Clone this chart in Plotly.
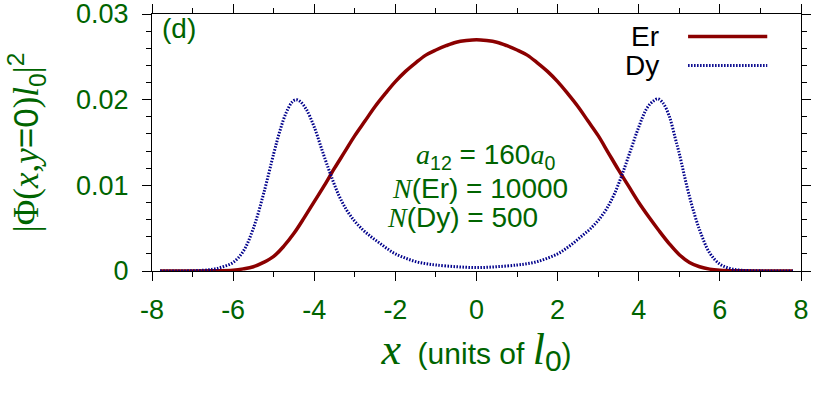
import plotly.graph_objects as go

# ---------------- data ----------------
x_er = [-7.8, -7.0, -6.5, -6.0, -5.75, -5.5, -5.25, -5.0, -4.75, -4.5, -4.25, -4.0, -3.75, -3.5, -3.25,
        -3.0, -2.75, -2.5, -2.25, -2.0, -1.75, -1.5, -1.25, -1.0, -0.75, -0.5, -0.25, 0.0,
        0.25, 0.5, 0.75, 1.0, 1.25, 1.5, 1.75, 2.0, 2.25, 2.5, 2.75, 3.0, 3.25, 3.5, 3.75, 4.0,
        4.25, 4.5, 4.75, 5.0, 5.25, 5.5, 5.75, 6.0, 6.5, 7.0, 7.8]
er = [0.0, 0.00001, 0.00003, 0.0001, 0.00025, 0.0005, 0.001, 0.0017, 0.0029, 0.0044, 0.0062, 0.0081,
      0.0100, 0.0120, 0.0139, 0.0158, 0.0175, 0.0192, 0.0207, 0.0221, 0.0233, 0.0243, 0.0252, 0.0258,
      0.0263, 0.0267, 0.0269, 0.0270,
      0.0269, 0.0267, 0.0263, 0.0258, 0.0252, 0.0243, 0.0233, 0.0221, 0.0207, 0.0192, 0.0175, 0.0158,
      0.0138, 0.0118, 0.0099, 0.0080, 0.0063, 0.0047, 0.0032, 0.0019, 0.0010, 0.0005, 0.00022, 0.0001,
      0.00003, 0.00001, 0.0]

x_dy = [-7.8, -7.0, -6.5, -6.25, -6.0, -5.75, -5.5, -5.25, -5.0, -4.85, -4.7, -4.55, -4.45, -4.35, -4.2,
        -4.0, -3.8, -3.6, -3.4, -3.2, -3.0, -2.8, -2.6, -2.4, -2.2, -2.0, -1.75, -1.5, -1.25, -1.0,
        -0.5, 0.0,
        0.5, 1.0, 1.25, 1.5, 1.75, 2.0, 2.2, 2.4, 2.6, 2.8, 3.0, 3.2, 3.4, 3.6, 3.8, 4.0, 4.2, 4.35,
        4.47, 4.6, 4.75, 4.9, 5.0, 5.25, 5.5, 5.75, 6.0, 6.25, 6.5, 7.0, 7.8]
dy = [0.0, 0.00003, 0.0002, 0.0005, 0.0010, 0.0023, 0.0050, 0.0090, 0.0137, 0.0163, 0.0184, 0.0197,
      0.0200, 0.0198, 0.0189, 0.0168, 0.0140, 0.0113, 0.0089, 0.0071, 0.0058, 0.0048, 0.0040, 0.0033,
      0.0026, 0.0020, 0.0015, 0.0011, 0.00085, 0.0007, 0.0005, 0.0004,
      0.0005, 0.0007, 0.00085, 0.0011, 0.0015, 0.0020, 0.0026, 0.0033, 0.0041, 0.0049, 0.0059, 0.0072,
      0.0090, 0.0114, 0.0141, 0.0168, 0.0190, 0.0198, 0.0201, 0.0196, 0.0181, 0.0155, 0.0137, 0.0087,
      0.0048, 0.0021, 0.0008, 0.0003, 0.0001, 0.00002, 0.0]

x_tick_vals = [-8, -6, -4, -2, 0, 2, 4, 6, 8]
x_tick_labels = ["-8", "-6", "-4", "-2", "0", "2", "4", "6", "8"]
y_tick_vals = [0, 0.01, 0.02, 0.03]
y_tick_labels = ["0", "0.01", "0.02", "0.03"]
y_minor_vals = [0.002, 0.004, 0.006, 0.008, 0.012, 0.014, 0.016, 0.018, 0.022, 0.024, 0.026, 0.028]

series_names = ["Er", "Dy"]

# ---------------- style ----------------
GREEN = "#006400"
RED = "#8B0000"
BLUE = "#00008B"
SANS = "Liberation Sans, Arial, sans-serif"
SERIF = "Liberation Serif, Times New Roman, serif"

fig = go.Figure()
fig.add_trace(go.Scatter(x=x_er, y=er, mode="lines", name=series_names[0],
                         line=dict(color=RED, width=3.5, shape="spline", smoothing=1.0)))
fig.add_trace(go.Scatter(x=x_dy, y=dy, mode="lines", name=series_names[1],
                         line=dict(color=BLUE, width=3, dash="1.5px,1.5px", shape="spline", smoothing=1.0)))

axis_common = dict(
    showline=True, linecolor="black", linewidth=1, mirror="allticks",
    ticks="outside", ticklen=9, tickwidth=1, tickcolor="black",
    showgrid=False, zeroline=False, ticklabeloverflow="allow",
    tickfont=dict(family=SANS, size=27, color=GREEN),
)

fig.update_xaxes(range=[-8, 8], tickvals=x_tick_vals, ticktext=x_tick_labels,
                 minor=dict(ticks="outside", dtick=1, ticklen=5, tickcolor="black", showgrid=False),
                 ticklabelstandoff=6,
                 title=dict(
                     text=(f"<span style='font-family:{SERIF};font-size:44px'><i>x</i></span>"
                           "  (units of "
                           f"<span style='font-family:{SERIF};font-size:44px'><i>l</i></span>"
                           "<sub><span style='font-size:30px'>0</span></sub>)"),
                     font=dict(family=SANS, size=30, color=GREEN), standoff=2),
                 **axis_common)
fig.update_yaxes(range=[0, 0.03], tickvals=y_tick_vals, ticktext=y_tick_labels,
                 minor=dict(ticks="outside", tickvals=y_minor_vals,
                            ticklen=5, tickcolor="black", showgrid=False),
                 ticklabelstandoff=8,
                 title=dict(
                     text=(f"<span style='font-family:{SERIF}'>|Φ(<i>x</i>,<i>y</i></span>=0"
                           f"<span style='font-family:{SERIF}'>)<i>l</i></span><sub>0</sub>"
                           f"<span style='font-family:{SERIF}'>|</span><sup>2</sup>"),
                     font=dict(family=SANS, size=35, color=GREEN), standoff=26),
                 **axis_common)

annotations = [
    dict(text="(d)", x=0.0125, y=0.945, xanchor="left", yanchor="middle",
         font=dict(family=SANS, size=28, color=GREEN)),
    dict(text=f"<span style='font-family:{SERIF}'><i>a</i></span><sub>12</sub> = 160"
              f"<span style='font-family:{SERIF}'><i>a</i></span><sub>0</sub>",
         x=0.403, y=0.447, xanchor="left", yanchor="middle",
         font=dict(family=SANS, size=28, color=GREEN)),
    dict(text=f"<span style='font-family:{SERIF}'><i>N</i></span>(Er) = 10000",
         x=0.366, y=0.322, xanchor="left", yanchor="middle",
         font=dict(family=SANS, size=28, color=GREEN)),
    dict(text=f"<span style='font-family:{SERIF}'><i>N</i></span>(Dy) = 500",
         x=0.359, y=0.207, xanchor="left", yanchor="middle",
         font=dict(family=SANS, size=28, color=GREEN)),
    # legend labels (text left of sample line, as in the reference)
    dict(text=series_names[0], x=0.785, y=0.912, xanchor="right", yanchor="middle",
         font=dict(family=SANS, size=28, color="black")),
    dict(text=series_names[1], x=0.785, y=0.800, xanchor="right", yanchor="middle",
         font=dict(family=SANS, size=28, color="black")),
]
for a in annotations:
    a.update(xref="paper", yref="paper", showarrow=False)

shapes = [
    dict(type="line", xref="paper", yref="paper", x0=0.826, x1=0.948, y0=0.912, y1=0.912,
         line=dict(color=RED, width=3.5)),
    dict(type="line", xref="paper", yref="paper", x0=0.826, x1=0.948, y0=0.800, y1=0.800,
         line=dict(color=BLUE, width=3, dash="1.5px,1.5px")),
]

fig.update_layout(
    width=830, height=396,
    margin=dict(l=152, r=29, t=14, b=125, autoexpand=False),
    paper_bgcolor="white", plot_bgcolor="white",
    showlegend=False,
    annotations=annotations, shapes=shapes,
)

fig.write_html("out.html", config={"displayModeBar": False},
               post_script="document.body.style.margin='0';")
